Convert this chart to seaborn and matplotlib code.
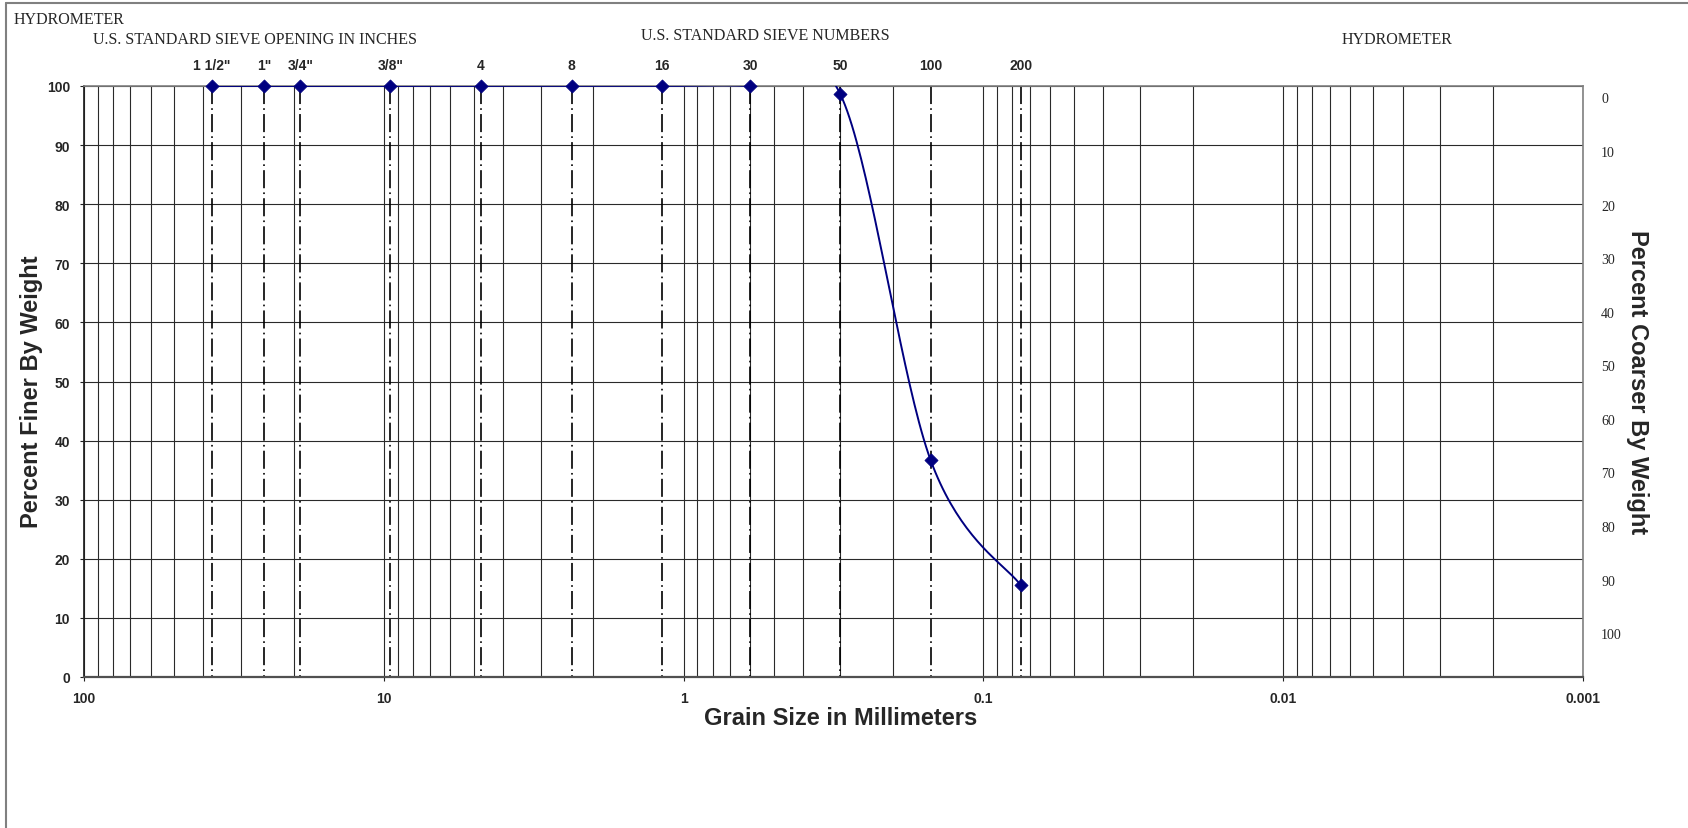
import numpy as np
import seaborn as sns
import matplotlib.pyplot as plt
from matplotlib.ticker import LogLocator, FixedLocator, NullFormatter
from matplotlib.lines import Line2D

# data
sieve_labels = ['1 1/2"', '1"', '3/4"', '3/8"', '4', '8', '16', '30', '50', '100', '200']
sieve_mm = [37.5, 25.0, 19.0, 9.5, 4.75, 2.36, 1.18, 0.6, 0.3, 0.15, 0.075]
pct_finer = [100, 100, 100, 100, 100, 100, 100, 100, 98.6, 36.7, 15.5]
x_ticks = [100, 10, 1, 0.1, 0.01, 0.001]
x_tick_labels = ['100', '10', '1', '0.1', '0.01', '0.001']
finer_ticks = list(range(0, 101, 10))
coarser_ticks = list(range(0, 101, 10))

sns.set_theme(style="white")
plt.rcParams['font.family'] = ['Liberation Sans', 'DejaVu Sans']
plt.rcParams['lines.scale_dashes'] = False

W, H = 1688, 829
fig = plt.figure(figsize=(W / 100, H / 100), dpi=100)
L, R, T, B = 84, 1583, 87, 678
ax = fig.add_axes([L / W, 1 - B / H, (R - L) / W, (B - T) / H])

ax.set_xscale('log')
ax.set_xlim(100, 0.001)
ax.set_ylim(0, 100)

# grid
ax.xaxis.set_major_locator(FixedLocator(x_ticks))
ax.set_xticklabels(x_tick_labels)
ax.xaxis.set_minor_locator(LogLocator(base=10, subs=np.arange(2, 10)))
ax.xaxis.set_minor_formatter(NullFormatter())
ax.set_yticks(finer_ticks)
ax.grid(which='both', axis='both', color='#2a2a2a', linewidth=0.8)
ax.set_axisbelow(True)

for side in ['top', 'right']:
    ax.spines[side].set_color('#808080')
    ax.spines[side].set_linewidth(1.2)
ax.spines['left'].set_color('#202020')
ax.spines['bottom'].set_color('#505050')
ax.spines['bottom'].set_linewidth(1.6)

ax.tick_params(axis='both', which='major', length=3, width=0.8, color='#202020',
               labelsize=10, pad=7, direction='out', left=True, bottom=True)
ax.tick_params(axis='x', which='minor', length=0)
for lab in ax.get_xticklabels() + ax.get_yticklabels():
    lab.set_fontweight('bold')

# sieve lines
ax.vlines(sieve_mm, 100, 0, colors='black', linewidth=1.2,
          linestyles=[(0, (13, 3, 1.2, 3))], zorder=2)

# smoothed curve (Excel style, Catmull-Rom through points in log space)
u = np.log10(sieve_mm)
v = np.array(pct_finer, dtype=float)
P = np.column_stack([u, v])
Pe = np.vstack([P[0], P, P[-1]])
curve = []
t = np.linspace(0, 1, 40)[:, None]
for i in range(1, len(Pe) - 2):
    p0, p1, p2, p3 = Pe[i - 1], Pe[i], Pe[i + 1], Pe[i + 2]
    c1 = p1 + (p2 - p0) / 6
    c2 = p2 - (p3 - p1) / 6
    seg = ((1 - t) ** 3) * p1 + 3 * ((1 - t) ** 2) * t * c1 + 3 * (1 - t) * t ** 2 * c2 + t ** 3 * p2
    curve.append(seg)
curve = np.vstack(curve)
ax.plot(10 ** curve[:, 0], curve[:, 1], color='#000080', linewidth=1.4, zorder=4)

sns.scatterplot(x=sieve_mm, y=pct_finer, marker='D', s=45, color='#000080',
                edgecolor='#000080', linewidth=0.5, zorder=5, clip_on=False, ax=ax)

# sieve labels on top
for xm, lab in zip(sieve_mm, sieve_labels):
    ax.annotate(lab, xy=(xm, 1), xycoords=('data', 'axes fraction'),
                xytext=(0, 15), textcoords='offset points',
                ha='center', va='center', fontsize=10, fontweight='bold')

# right axis: percent coarser
ax2 = ax.twinx()
ax2.set_ylim(108.2, -2.14)
ax2.set_yticks(coarser_ticks)
ax2.tick_params(axis='y', length=0, pad=13, labelsize=10)
for lab in ax2.get_yticklabels():
    lab.set_fontfamily(['Liberation Serif', 'DejaVu Serif'])
ax2.grid(False)
for s in ax2.spines.values():
    s.set_visible(False)

# axis titles
fig.text(32 / W, 1 - 392 / H, 'Percent Finer By Weight', rotation=90,
         ha='center', va='center', fontsize=17, fontweight='bold')
fig.text(1638 / W, 1 - 382 / H, 'Percent Coarser By Weight', rotation=-90,
         ha='center', va='center', fontsize=17, fontweight='bold')
fig.text(841 / W, 1 - 719 / H, 'Grain Size in Millimeters',
         ha='center', va='center', fontsize=17, fontweight='bold')

# header texts
serif = ['Liberation Serif', 'DejaVu Serif']
fig.text(14 / W, 1 - 20 / H, 'HYDROMETER', ha='left', va='center', fontsize=11.5, family=serif)
fig.text(255 / W, 1 - 40 / H, 'U.S. STANDARD SIEVE OPENING IN INCHES', ha='center',
         va='center', fontsize=11.5, family=serif)
fig.text(765 / W, 1 - 36 / H, 'U.S. STANDARD SIEVE NUMBERS', ha='center',
         va='center', fontsize=11.5, family=serif)
fig.text(1397 / W, 1 - 40 / H, 'HYDROMETER', ha='center', va='center', fontsize=11.5, family=serif)

# outer frame
fig.add_artist(Line2D([6 / W, 1], [1 - 4 / H, 1 - 4 / H], transform=fig.transFigure,
                      color='#808080', linewidth=1.5))
fig.add_artist(Line2D([6 / W, 6 / W], [0, 1 - 4 / H], transform=fig.transFigure,
                      color='#808080', linewidth=1.5))

fig.savefig('out.png', dpi=100)
